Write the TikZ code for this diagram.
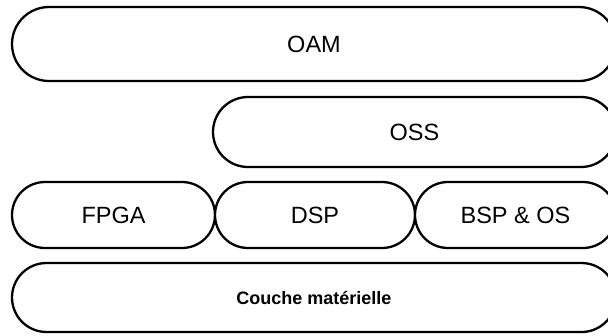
\documentclass[tikz,border=0pt]{standalone}
\usepackage{fontspec}
\setmainfont{Liberation Sans}
\begin{document}
\begin{tikzpicture}[x=1pt,y=-1pt,
  layer/.style={draw=black, line width=2.3pt, fill=white, inner sep=0pt, font=\fontsize{23.5}{26}\selectfont},
  hw/.style={layer, font=\fontsize{18}{20}\selectfont\bfseries}]
\useasboundingbox (0,0) rectangle (608,335);
\clip (0,0) rectangle (608,335);
\node[layer, minimum width=604pt, minimum height=74pt, rounded corners=37pt] (oam) at (314,44) {OAM};
\node[layer, minimum width=403pt, minimum height=70pt, rounded corners=35pt] (oss) at (414.5,132) {OSS};
\node[layer, minimum width=203pt, minimum height=66pt, rounded corners=33pt] (fpga) at (113.5,215) {FPGA};
\node[layer, minimum width=200pt, minimum height=66pt, rounded corners=33pt] (dsp) at (315,215) {DSP};
\node[layer, minimum width=201pt, minimum height=66pt, rounded corners=33pt] (bsp) at (515.5,215) {BSP \& OS};
\node[hw, minimum width=604pt, minimum height=69pt, rounded corners=34.5pt] (hw) at (314,297.5) {Couche matérielle};
\end{tikzpicture}
\end{document}
